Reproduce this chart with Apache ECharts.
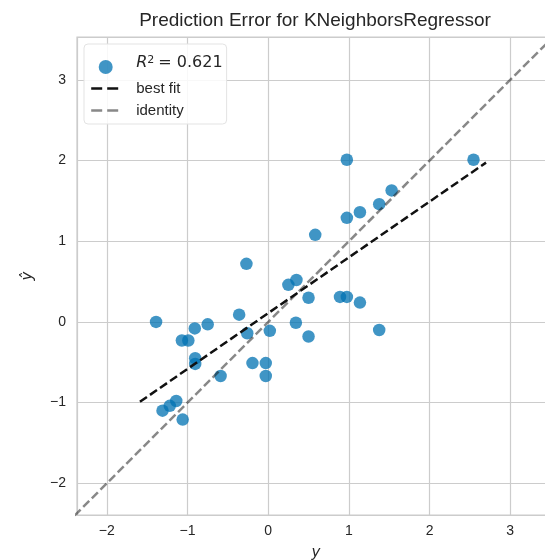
<!DOCTYPE html>
<html>
<head>
<meta charset="utf-8">
<title>Prediction Error for KNeighborsRegressor</title>
<script src="https://cdn.jsdelivr.net/npm/echarts@6/dist/echarts.min.js"></script>
<style>
  html, body { margin: 0; padding: 0; background: #fff; }
  #chart { width: 545px; height: 560px; }
</style>
</head>
<body>
<div id="chart"></div>
<script>
const yTrue = [-1.39, -0.27, -0.91, -0.75, -0.36, -0.26, 0.02, 0.25, 0.35, 0.975,
  2.545, 1.53, 1.376, 1.137, 0.975, 0.583, 0.50, 0.89, 0.975, 1.137,
  0.343, 1.376, 0.50, -1.07, -0.99, -0.905, -0.905, -0.195, -0.03, -0.03,
  -0.59, -1.14, -1.22, -1.31, -1.06]
const yPred = [0.00, 0.72, -0.08, -0.03, 0.09, -0.14, -0.11, 0.46, 0.52, 2.01,
  2.01, 1.63, 1.46, 1.36, 1.29, 1.08, 0.30, 0.31, 0.31, 0.24,
  -0.01, -0.10, -0.18, -0.23, -0.23, -0.45, -0.52, -0.51, -0.51, -0.67,
  -0.67, -0.98, -1.04, -1.10, -1.21]

// best fit line end points
const bestFitX = [-1.59, 2.70]
const bestFitY = [-0.99, 1.975]

// identity line runs over the whole axis range
const identityRange = [-2.4, 3.6]

const tickValues = [-2, -1, 0, 1, 2, 3]
const r2Value = '0.621'

const chart = echarts.init(document.getElementById('chart'), null, { renderer: 'canvas' })

const textColor = '#262626'
const gridColor = '#cccccc'
const font = '"Liberation Sans", Arial, sans-serif'

const tickLabel = function (v) {
  if (tickValues.indexOf(v) < 0) return ''
  return String(v).replace('-', '\u2212')
}

const axisCommon = {
  type: 'value',
  minInterval: 1,
  maxInterval: 1,
  axisLine: { show: false },
  axisTick: { show: false },
  splitLine: { show: true, lineStyle: { color: gridColor, width: 1.2 } },
  axisLabel: {
    formatter: tickLabel,
    color: textColor,
    fontFamily: font,
    fontSize: 14,
    showMinLabel: false,
    showMaxLabel: false
  },
  nameLocation: 'middle',
  nameTextStyle: {
    color: textColor,
    fontFamily: '"DejaVu Sans", sans-serif',
    fontStyle: 'italic',
    fontSize: 15
  }
}

const scatterData = yTrue.map((v, i) => [v, yPred[i]])
const bestFitData = bestFitX.map((v, i) => [v, bestFitY[i]])
const identityData = identityRange.map(v => [v, v])

// legend line icons: no symbol, long dashes like the matplotlib legend
const legendLine = function (name, color) {
  return {
    name: name,
    itemStyle: { opacity: 0 },
    lineStyle: { color: color, width: 2.4, type: [11, 5], opacity: 1 }
  }
}

const options = {
  backgroundColor: '#ffffff',
  animation: false,
  title: {
    text: 'Prediction Error for KNeighborsRegressor',
    left: 310,
    top: 6,
    textAlign: 'center',
    textStyle: {
      color: textColor,
      fontFamily: font,
      fontSize: 19,
      fontWeight: 'normal'
    }
  },
  grid: {
    left: 77,
    top: 37,
    width: 478,
    height: 478,
    show: true,
    borderColor: gridColor,
    borderWidth: 1.2,
    containLabel: false,
    outerBoundsMode: 'none'
  },
  legend: {
    orient: 'vertical',
    left: 84,
    top: 44,
    padding: [11, 4, 6, 6],
    itemGap: 7,
    itemWidth: 29,
    itemHeight: 14,
    backgroundColor: 'rgba(255,255,255,0.85)',
    borderColor: '#e3e3e3',
    borderWidth: 1,
    borderRadius: 4,
    data: ['r2', legendLine('best fit', '#111111'), legendLine('identity', '#888888')],
    formatter: function (name) {
      if (name === 'r2') return '{i|R}{s|2}{n|= ' + r2Value + '}'
      return name
    },
    textStyle: {
      color: textColor,
      fontFamily: font,
      fontSize: 15,
      padding: [0, 0, 0, 11],
      rich: {
        i: { fontFamily: '"DejaVu Sans", sans-serif', fontStyle: 'italic', fontSize: 16, color: textColor, padding: [0, 0, 8, 0] },
        s: { fontFamily: '"DejaVu Sans", sans-serif', fontSize: 11, color: textColor, verticalAlign: 'top', padding: [0, 4, 12, 0] },
        n: { fontFamily: '"DejaVu Sans", sans-serif', fontSize: 16, color: textColor, padding: [0, 0, 8, 0] }
      }
    }
  },
  xAxis: Object.assign({}, axisCommon, {
    min: -2.37,
    max: 3.555,
    name: 'y',
    nameGap: 31,
    axisLabel: Object.assign({}, axisCommon.axisLabel, { margin: 9 })
  }),
  yAxis: Object.assign({}, axisCommon, {
    min: -2.393,
    max: 3.532,
    name: 'ŷ',
    nameGap: 41,
    nameRotate: 90,
    axisLabel: Object.assign({}, axisCommon.axisLabel, { margin: 11 })
  }),
  series: [
    {
      name: 'r2',
      type: 'scatter',
      data: scatterData,
      symbol: 'circle',
      symbolSize: 12.5,
      itemStyle: { color: '#0072B2', opacity: 0.75 }
    },
    {
      name: 'best fit',
      type: 'line',
      data: bestFitData,
      symbol: 'none',
      clip: true,
      lineStyle: { color: '#111111', width: 2.5, type: [8.5, 3.7] },
      itemStyle: { color: '#111111' }
    },
    {
      name: 'identity',
      type: 'line',
      data: identityData,
      symbol: 'none',
      clip: true,
      lineStyle: { color: '#111111', opacity: 0.5, width: 2.5, type: [8.5, 3.7] },
      itemStyle: { color: '#888888' }
    }
  ]
}

chart.setOption(options)
</script>
</body>
</html>
